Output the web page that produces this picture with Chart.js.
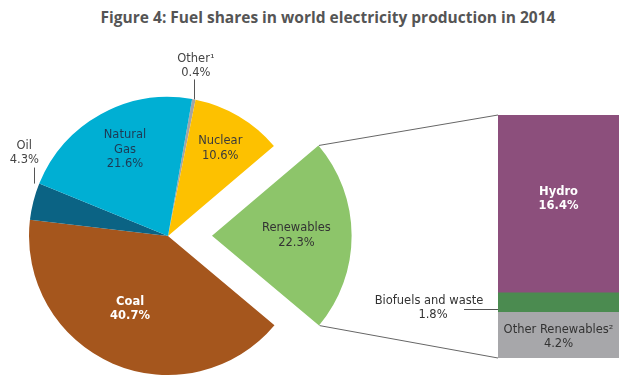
<!DOCTYPE html>
<html>
<head>
<meta charset="utf-8">
<script src="https://cdn.jsdelivr.net/npm/chart.js@4"></script>
<style>
  html, body { margin: 0; padding: 0; background: #fff; }
  #wrap { position: relative; width: 640px; height: 383px; overflow: hidden; }
  canvas { position: absolute; left: 0; top: 0; }
  #title { position: absolute; top: 6px; left: 0; width: 656px; text-align: center;
           font: bold 15.5px "Open Sans", sans-serif; color: #555; }
</style>
</head>
<body>
<div id="wrap">
  <div id="title">Figure 4: Fuel shares in world electricity production in 2014</div>
  <canvas id="pie" width="640" height="383"></canvas>
  <canvas id="bar" width="640" height="383"></canvas>
</div>
<script>
// fuel shares, clockwise starting just right of 12 o'clock
const fuelLabels = ["Other¹", "Nuclear", "Renewables", "Coal", "Oil", "Natural Gas"];
const fuelShares = [0.4, 10.6, 22.3, 40.7, 4.3, 21.6];
const fuelColors = ["#a4a4a4", "#fdc100", "#8dc56a", "#a5561d", "#0b6384", "#00afd3"];
const explodePx = [0, 0, 44, 0, 0, 0]; // how far each slice is pulled out

// breakdown of renewables, bottom to top
const renewLabels = ["Other Renewables²", "Biofuels and waste", "Hydro"];
const renewShares = [4.2, 1.8, 16.4];
const renewColors = ["#a7a7aa", "#4b8b50", "#8c4f7c"];

const FONT = '"DejaVu Sans", sans-serif';

function drawLines(ctx, lines, x, y, color, bold, lh) {
    ctx.fillStyle = color;
    ctx.font = (bold ? "bold " : "") + "11.5px " + FONT;
    ctx.textAlign = "center";
    ctx.textBaseline = "middle";
    const top = y - (lines.length - 1) * lh / 2;
    lines.forEach((t, i) => ctx.fillText(t, x, top + i * lh));
}

// chart.js moves an arc by offset/4 (plus a small fix), do the same here
function arcCenter(arc) {
    const mid = (arc.startAngle + arc.endAngle) / 2;
    const o = (arc.options.offset || 0) / 4;
    const fix = 1 - Math.sin(Math.min(Math.PI, arc.circumference || 0));
    const d = o * (1 + fix);
    return { x: arc.x + Math.cos(mid) * d, y: arc.y + Math.sin(mid) * d, r: arc.outerRadius + o * fix, mid };
}

// where each pie label goes (fraction of radius along mid angle, or outside with a leader)
const pieLabelSpec = [
    { outside: true, lines: ["Other¹", "0.4%"], color: "#444", dx: 2, lead: 20, gap: 13 },
    { frac: 0.74, lines: ["Nuclear", "10.6%"], color: "#3b3b3b", ny: 1 },
    { frac: 0.6, lines: ["Renewables", "22.3%"], color: "#333" },
    { frac: 0.58, lines: ["Coal", "40.7%"], color: "#fff", bold: true, nx: -6, ny: -1 },
    { outside: true, lines: ["Oil", "4.3%"], color: "#444", dx: -10, lead: 16, gap: 15, edge: "end" },
    { frac: 0.7, lines: ["Natural", "Gas", "21.6%"], color: "#1d3a55", nx: 4, ny: -1 },
];

const pieLabels = {
    id: "pieLabels",
    afterDatasetsDraw(chart) {
        const ctx = chart.ctx;
        const arcs = chart.getDatasetMeta(0).data;
        ctx.save();
        arcs.forEach((arc, i) => {
            const spec = pieLabelSpec[i];
            const c = arcCenter(arc);
            if (!spec.outside) {
                const d = spec.frac * c.r;
                drawLines(ctx, spec.lines, c.x + Math.cos(c.mid) * d + (spec.nx || 0),
                    c.y + Math.sin(c.mid) * d + (spec.ny || 0), spec.color, spec.bold, 14.5);
            } else {
                const a = spec.edge === "end" ? arc.endAngle : c.mid;
                const ex = c.x + Math.cos(a) * c.r - (spec.edge === "end" ? 5 : 0);
                const ey = c.y + Math.sin(a) * c.r;
                ctx.strokeStyle = "#555";
                ctx.lineWidth = 1;
                ctx.beginPath();
                ctx.moveTo(Math.round(ex) + 0.5, ey);
                ctx.lineTo(Math.round(ex) + 0.5, ey - spec.lead);
                ctx.stroke();
                drawLines(ctx, spec.lines, ex + spec.dx, ey - spec.lead - spec.gap, spec.color, false, 14);
            }
        });
        ctx.restore();
    }
};

const pieChart = new Chart(document.getElementById("pie"), {
    type: "pie",
    plugins: [pieLabels],
    data: {
        labels: fuelLabels,
        datasets: [{
            data: fuelShares,
            backgroundColor: fuelColors,
            borderWidth: 0,
            offset: explodePx.map(v => v * 4),
            clip: false,
        }],
    },
    options: {
        responsive: false,
        animation: false,
        rotation: 10,
        radius: 139,
        layout: { padding: { left: 0, right: 304, top: 89, bottom: 0 } },
        plugins: { legend: { display: false }, tooltip: { enabled: false } },
    },
});

// connector lines from the exploded slice to the bar, plus bar labels
const barExtras = {
    id: "barExtras",
    afterDatasetsDraw(chart) {
        const ctx = chart.ctx;
        const ren = pieChart.getDatasetMeta(0).data[2];
        const c = arcCenter(ren);
        const area = chart.chartArea;
        ctx.save();
        ctx.strokeStyle = "#666";
        ctx.lineWidth = 1;
        ctx.beginPath();
        ctx.moveTo(c.x + Math.cos(ren.startAngle) * c.r, c.y + Math.sin(ren.startAngle) * c.r);
        ctx.lineTo(area.left, area.top);
        ctx.moveTo(c.x + Math.cos(ren.endAngle) * c.r, c.y + Math.sin(ren.endAngle) * c.r);
        ctx.lineTo(area.left, area.bottom);
        ctx.stroke();

        const bars = chart.data.datasets.map((ds, i) => chart.getDatasetMeta(i).data[0]);
        // Other renewables
        let b = bars[0];
        drawLines(ctx, ["Other Renewables²", "4.2%"], b.x, (b.y + b.base) / 2 + 2, "#333", false, 14);
        // Biofuels and waste, outside with leader
        b = bars[1];
        const ly = Math.round((b.y + b.base) / 2 + 6) + 0.5;
        ctx.strokeStyle = "#555";
        ctx.beginPath();
        ctx.moveTo(area.left - 34, ly);
        ctx.lineTo(area.left, ly);
        ctx.stroke();
        ctx.fillStyle = "#333";
        ctx.font = "11.5px " + FONT;
        ctx.textAlign = "center";
        ctx.textBaseline = "middle";
        ctx.fillText("Biofuels and waste", area.left - 69, ly - 8);
        ctx.fillText("1.8%", area.left - 65, ly + 6);
        // Hydro
        b = bars[2];
        drawLines(ctx, ["Hydro", "16.4%"], b.x, (b.y + b.base) / 2 - 5, "#fff", true, 14);
        ctx.restore();
    }
};

new Chart(document.getElementById("bar"), {
    type: "bar",
    plugins: [barExtras],
    data: {
        labels: ["Renewables"],
        datasets: renewLabels.map((name, i) => ({
            label: name,
            data: [renewShares[i]],
            backgroundColor: renewColors[i],
            borderWidth: 0,
            categoryPercentage: 1,
            barPercentage: 1,
        })),
    },
    options: {
        responsive: false,
        animation: false,
        layout: { padding: { left: 498, right: 21, top: 115, bottom: 25 } },
        scales: {
            x: { display: false, stacked: true },
            y: { display: false, stacked: true, min: 0, max: 22.4 },
        },
        plugins: { legend: { display: false }, tooltip: { enabled: false } },
    },
});
</script>
</body>
</html>
